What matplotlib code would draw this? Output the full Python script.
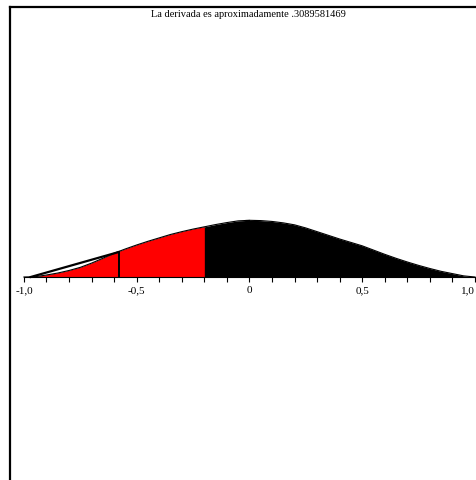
import numpy as np
import matplotlib
matplotlib.use('Agg')
import matplotlib.pyplot as plt
from matplotlib.lines import Line2D

# curve
x_curve = [-1.0, -0.95, -0.9, -0.85, -0.8, -0.75, -0.7, -0.65, -0.6, -0.55, -0.5,
           -0.45, -0.4, -0.35, -0.3, -0.25, -0.2, -0.15, -0.1, -0.05, 0.0,
           0.05, 0.1, 0.15, 0.2, 0.25, 0.3, 0.35, 0.4, 0.45, 0.5,
           0.55, 0.6, 0.65, 0.7, 0.75, 0.8, 0.85, 0.9, 0.95, 1.0]
y_curve = [0.0, 0.005, 0.035, 0.07, 0.115, 0.17, 0.245, 0.33, 0.42, 0.495, 0.565,
           0.63, 0.69, 0.75, 0.80, 0.845, 0.885, 0.925, 0.96, 0.99, 1.0,
           0.995, 0.98, 0.955, 0.92, 0.865, 0.80, 0.735, 0.67, 0.61, 0.55,
           0.475, 0.40, 0.33, 0.265, 0.205, 0.15, 0.10, 0.06, 0.02, 0.0]

# shaded interval and secant
red_from, red_to = -0.95, -0.2
secant_x = [-0.97, -0.58]
secant_y = [0.0, 0.44]

major_ticks = [-1.0, -0.5, 0.0, 0.5, 1.0]
major_labels = ["-1,0", "-0,5", "0", "0,5", "1,0"]
minor_ticks = [-0.9, -0.8, -0.7, -0.6, -0.4, -0.3, -0.2, -0.1,
               0.1, 0.2, 0.3, 0.4, 0.6, 0.7, 0.8, 0.9]

title = "La derivada es aproximadamente .3089581469"

plt.rcParams['font.family'] = ['Liberation Serif', 'DejaVu Serif']

fig = plt.figure(figsize=(4.77, 4.81), dpi=100)
ax = fig.add_axes([0, 0, 1, 1])
ax.set_xlim(-1.106, 1.009)
ax.set_ylim(-3.580, 4.903)

xs = np.array(x_curve)
ys = np.array(y_curve)

# whole area black, then the red part on top
ax.fill_between(xs, 0, ys, color='black', linewidth=0)
mask = (xs >= red_from) & (xs <= red_to)
ax.fill_between(xs[mask], 0, ys[mask], color='#ff0000', linewidth=0)
ax.plot(xs, ys, color='black', lw=0.8)

ax.plot(secant_x, secant_y, color='black', lw=1.6)
ax.plot([secant_x[1], secant_x[1]], [0, secant_y[1]], color='black', lw=1.4)

# axes drawn maple style
for s in ['top', 'right']:
    ax.spines[s].set_visible(False)
ax.spines['bottom'].set_position(('data', 0))
ax.spines['bottom'].set_bounds(-1, 1)
ax.spines['bottom'].set_linewidth(0.8)
ax.spines['left'].set_position(('data', 0))
ax.spines['left'].set_bounds(0, 1)
ax.spines['left'].set_linewidth(0.8)
ax.set_xticks(major_ticks, labels=major_labels)
ax.set_xticks(minor_ticks, minor=True)
ax.set_yticks([1], labels=[""])
ax.tick_params(axis='x', which='both', direction='out', length=3.5, width=0.8,
               labelsize=8, pad=2.5)
ax.tick_params(axis='y', direction='out', length=3, width=0.8)
# last label sits at the right edge, keep it inside
ax.get_xticklabels()[-1].set_horizontalalignment('right')
ax.set_facecolor('white')

fig.text(0.52, 0.969, title, ha='center', va='center', fontsize=7.5)

# frame of the window
fig.add_artist(Line2D([0.02, 0.02], [0, 0.983], color='black', lw=1.6,
                      transform=fig.transFigure))
fig.add_artist(Line2D([0.02, 1.0], [0.983, 0.983], color='black', lw=1.6,
                      transform=fig.transFigure))

fig.savefig('out.png', dpi=100)
